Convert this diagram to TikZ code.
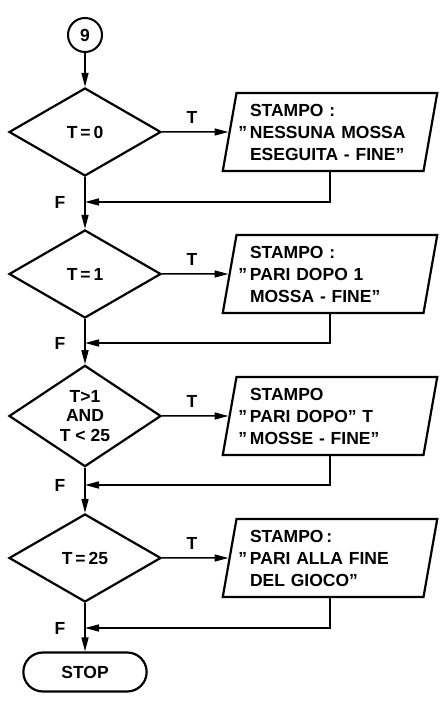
\documentclass[tikz,border=0pt]{standalone}
\usepackage{fontspec}
\setmainfont{Liberation Sans}
\usetikzlibrary{arrows.meta,shapes.geometric,shapes.misc}
\newcommand{\hq}{\leavevmode\llap{"\,}}

\begin{document}
\begin{tikzpicture}[
    x=1pt, y=1pt,
    txt/.style={font=\bfseries\fontsize{17.5}{22}\selectfont},
    conn/.style={draw, line width=1.5pt},
    arr/.style={conn, -{Triangle[length=14pt,width=7pt]}},
    start/.style={txt, draw, circle, line width=2pt, minimum size=34pt, inner sep=0pt},
    dec/.style={draw, diamond, line width=2.2pt, minimum width=152pt, minimum height=88pt,
        inner sep=0pt, align=center, font=\bfseries\fontsize{17.5}{19.5}\selectfont},
    outbox/.style={txt, draw, trapezium, trapezium left angle=79, trapezium right angle=101,
        trapezium stretches=true, line width=2.2pt, minimum width=215pt, minimum height=78pt,
        text width=160pt, align=left},
    term/.style={txt, draw, rounded rectangle, line width=2.2pt, minimum width=130pt, minimum height=39pt},
]
\useasboundingbox (0,0) rectangle (445,701);

\node[start] (c9) at (85,666) {9};

% T = 0
\node[dec] (d1) at (85,569) {T\,=\,0};
\node[outbox] (p1) at (330,569) {STAMPO :\\\hq NESSUNA MOSSA\\ESEGUITA - FINE"};
\node[txt] (t1) at (192,584) {T};
\coordinate (r1) at (85,499);
\node[txt] (f1) at (60,499) {F};

% T = 1
\node[dec] (d2) at (85,427) {T\,=\,1};
\node[outbox] (p2) at (330,427) {STAMPO :\\\hq PARI DOPO 1\\MOSSA - FINE"};
\node[txt] (t2) at (192,442) {T};
\coordinate (r2) at (85,358);
\node[txt] (f2) at (60,358) {F};

% 1 < T < 25
\node[dec] (d3) at (85,285) {T>1\\AND\\T < 25};
\node[outbox] (p3) at (330,285) {STAMPO\\\hq PARI DOPO" T\\\hq MOSSE - FINE"};
\node[txt] (t3) at (192,300) {T};
\coordinate (r3) at (85,216);
\node[txt] (f3) at (60,216) {F};

% T = 25
\node[dec] (d4) at (85,143) {T\,=\,25};
\node[outbox] (p4) at (330,143) {STAMPO\,:\\\hq PARI ALLA FINE\\DEL GIOCO"};
\node[txt] (t4) at (192,158) {T};
\coordinate (r4) at (85,73);
\node[txt] (f4) at (60,73) {F};

\node[term] (stop) at (85,29) {STOP};

\draw[arr] (c9) -- (d1.north);
\draw[arr] (d1.east) -- (p1.west);
\draw[arr] (p1.south) |- (r1);
\draw[arr] (d1.south) -- (d2.north);
\draw[arr] (d2.east) -- (p2.west);
\draw[arr] (p2.south) |- (r2);
\draw[arr] (d2.south) -- (d3.north);
\draw[arr] (d3.east) -- (p3.west);
\draw[arr] (p3.south) |- (r3);
\draw[arr] (d3.south) -- (d4.north);
\draw[arr] (d4.east) -- (p4.west);
\draw[arr] (p4.south) |- (r4);
\draw[arr] (d4.south) -- (stop.north);
\end{tikzpicture}
\end{document}
